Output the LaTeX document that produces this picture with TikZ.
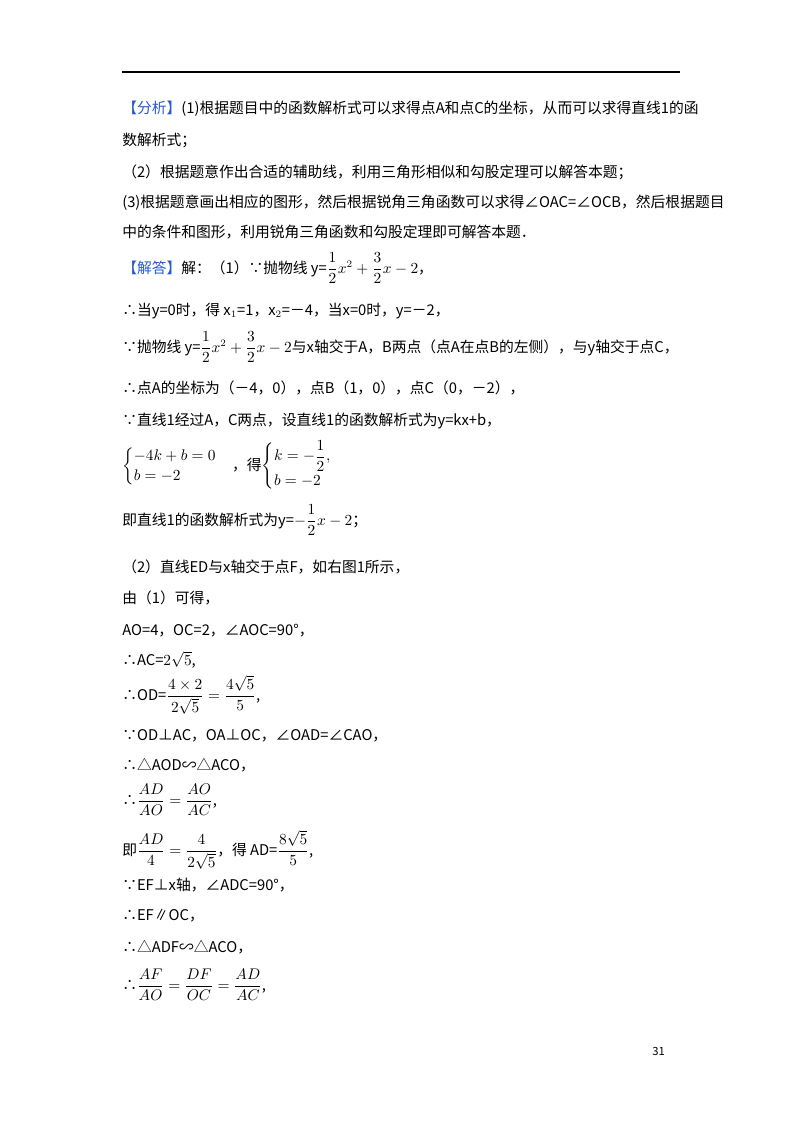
\documentclass[tikz,border=0pt]{standalone}
\usepackage{amsmath}
\usepackage{fontspec}
\setmainfont{Noto Sans CJK SC}
\definecolor{hd}{RGB}{40,90,200}
\begin{document}
\begin{tikzpicture}[x=0.025cm,y=-0.025cm,
  t/.style={anchor=base west,inner sep=0pt,font=\fontsize{10.5}{12}\selectfont}]
\useasboundingbox (0,0) rectangle (800,1132);
\coordinate (r1) at (122,72); \coordinate (r2) at (680,72);
\draw[line width=0.8pt] (r1) -- (r2);
\node[t] (l1) at (122,113) {\textcolor{hd}{【分析】}(1)根据题目中的函数解析式可以求得点A和点C的坐标，从而可以求得直线1的函};
\node[t] (l2) at (122,145) {数解析式；};
\node[t] (l3) at (122,177) {（2）根据题意作出合适的辅助线，利用三角形相似和勾股定理可以解答本题；};
\node[t] (l4) at (122,207) {(3)根据题意画出相应的图形，然后根据锐角三角函数可以求得∠OAC=∠OCB，然后根据题目};
\node[t] (l5) at (122,237) {中的条件和图形，利用锐角三角函数和勾股定理即可解答本题．};
\node[t] (l6) at (122,273) {\textcolor{hd}{【解答】}解：（1）∵抛物线 y=$\dfrac12x^2+\dfrac32x-2$，};
\node[t] (l7) at (122,315) {∴当y=0时，得 x$_1$=1，x$_2$=－4，当x=0时，y=－2，};
\node[t] (l8) at (122,352) {∵抛物线 y=$\dfrac12x^2+\dfrac32x-2$与x轴交于A，B两点（点A在点B的左侧），与y轴交于点C，};
\node[t] (l9) at (122,393) {∴点A的坐标为（－4，0），点B（1，0），点C（0，－2），};
\node[t] (l10) at (122,425) {∵直线1经过A，C两点，设直线1的函数解析式为y=kx+b，};
\node[t] (l11) at (122,470) {$\begin{cases}-4k+b=0\\ b=-2\end{cases}$，得$\begin{cases}k=-\dfrac12,\\ b=-2\end{cases}$};
\node[t] (l12) at (122,525) {即直线1的函数解析式为y=$-\dfrac12x-2$；};
\node[t] (l13) at (122,572) {（2）直线ED与x轴交于点F，如右图1所示，};
\node[t] (l14) at (122,603) {由（1）可得，};
\node[t] (l15) at (122,635) {AO=4，OC=2，∠AOC=90°，};
\node[t] (l16) at (122,665) {∴AC=$2\sqrt5$,};
\node[t] (l17) at (122,700) {∴OD=$\dfrac{4\times2}{2\sqrt5}=\dfrac{4\sqrt5}{5}$,};
\node[t] (l18) at (122,740) {∵OD⊥AC，OA⊥OC，∠OAD=∠CAO，};
\node[t] (l19) at (122,770) {∴△AOD∽△ACO，};
\node[t] (l20) at (122,805) {∴$\dfrac{AD}{AO}=\dfrac{AO}{AC}$,};
\node[t] (l21) at (122,855) {即$\dfrac{AD}{4}=\dfrac{4}{2\sqrt5}$，得 AD=$\dfrac{8\sqrt5}{5}$,};
\node[t] (l22) at (122,890) {∵EF⊥x轴，∠ADC=90°，};
\node[t] (l23) at (122,920) {∴EF∥OC，};
\node[t] (l24) at (122,952) {∴△ADF∽△ACO，};
\node[t] (l25) at (122,990) {∴$\dfrac{AF}{AO}=\dfrac{DF}{OC}=\dfrac{AD}{AC}$,};
\node[t,font=\fontsize{8}{10}\selectfont] (pg) at (652,1055) {31};
\end{tikzpicture}
\end{document}
